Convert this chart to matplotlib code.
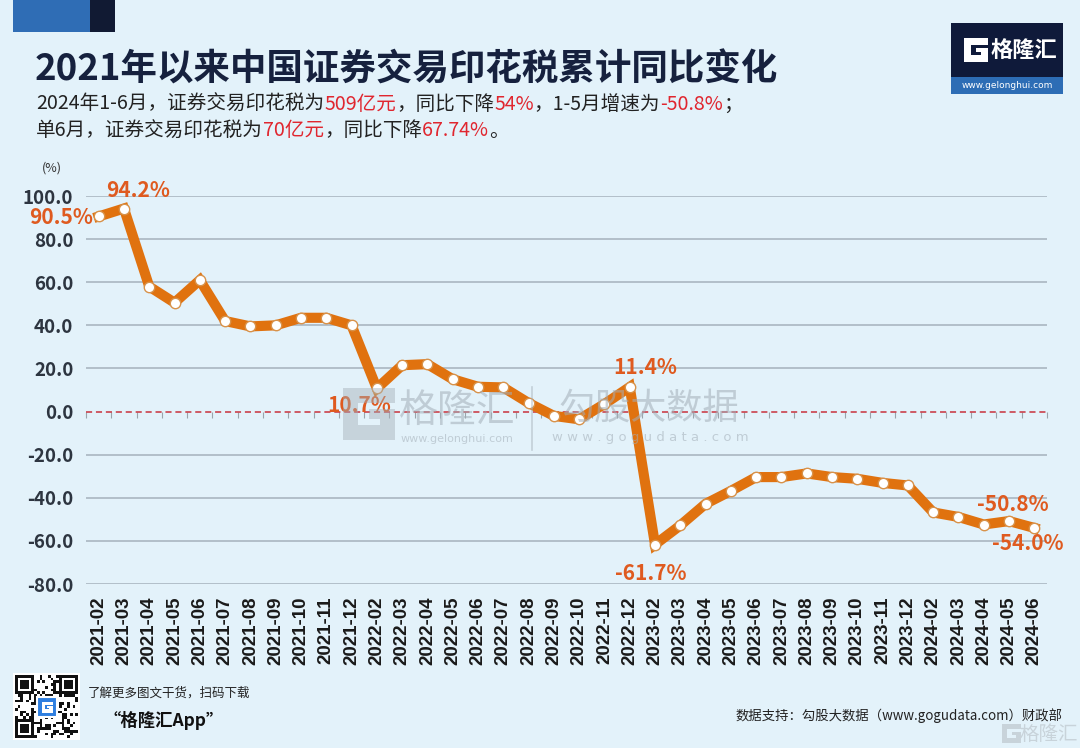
import matplotlib
matplotlib.use("Agg")
import matplotlib.pyplot as plt
from matplotlib.patches import Rectangle, Polygon
import numpy as np

# ---------------- data ----------------
months = ["2021-02", "2021-03", "2021-04", "2021-05", "2021-06", "2021-07", "2021-08",
          "2021-09", "2021-10", "2021-11", "2021-12",
          "2022-02", "2022-03", "2022-04", "2022-05", "2022-06", "2022-07", "2022-08",
          "2022-09", "2022-10", "2022-11", "2022-12",
          "2023-02", "2023-03", "2023-04", "2023-05", "2023-06", "2023-07", "2023-08",
          "2023-09", "2023-10", "2023-11", "2023-12",
          "2024-02", "2024-03", "2024-04", "2024-05", "2024-06"]
yoy = [90.5, 94.2, 58.0, 50.5, 61.0, 42.0, 39.5, 40.0, 43.5, 43.5, 40.0,
       10.7, 21.5, 22.0, 15.0, 11.5, 11.2, 4.0, -2.0, -3.6, 3.5, 11.4,
       -61.7, -52.8, -42.8, -36.8, -30.4, -30.4, -28.7, -30.4, -31.2, -33.1, -34.3,
       -46.8, -48.9, -52.4, -50.8, -54.0]
labelled = ["2021-02", "2021-03", "2022-02", "2022-12", "2023-02", "2024-05", "2024-06"]
yticks = [100, 80, 60, 40, 20, 0, -20, -40, -60, -80]

title = "2021年以来中国证券交易印花税累计同比变化"
sub1 = [("2024年1-6月，证券交易印花税为", 0), ("509亿元", 1), ("，同比下降", 0), ("54%", 1),
        ("，1-5月增速为", 0), ("-50.8%", 1), ("；", 0)]
sub2 = [("单6月，证券交易印花税为", 0), ("70亿元", 1), ("，同比下降", 0), ("67.74%", 1), ("。", 0)]
source = "数据支持：勾股大数据（www.gogudata.com）财政部"

# ---------------- style ----------------
W, H = 1080, 748
BG = "#e3f2fa"
ORANGE = "#e0720f"
LABEL = "#df5a1f"
GRID = "#aebbc5"
ZERO = "#c8323c"
NAVY = "#16213e"
DARK = "#222222"
RED = "#e0262f"
CJK = ["Noto Sans CJK SC", "DejaVu Sans"]

# label offsets in points (dx, dy, ha)
offsets = {
    "2021-02": (-4, -1, "right"),
    "2021-03": (10, 13, "center"),
    "2022-02": (-13, -12, "center"),
    "2022-12": (11, 14, "center"),
    "2023-02": (-3, -21, "center"),
    "2024-05": (3, 12, "center"),
    "2024-06": (-5, -11, "center"),
}

fig = plt.figure(figsize=(W / 100, H / 100), dpi=100, facecolor=BG)


def fx(px):
    return px / W


def fy(py):
    return 1 - py / H


# ---------------- axes ----------------
ax = fig.add_axes([fx(86), fy(584), fx(1047 - 86), (584 - 196) / H])
ax.set_facecolor(BG)
x = np.arange(len(months))
ax.set_xlim(-0.5, len(months) - 0.5)
ax.set_ylim(min(yticks), max(yticks))

for v in yticks:
    if v != 0:
        ax.axhline(v, color=GRID, lw=1.3, zorder=1)
ax.axhline(0, color=ZERO, lw=1.1, ls=(0, (4, 2.5)), zorder=2)

ax.plot(x, yoy, color=ORANGE, lw=7.3, solid_joinstyle="miter", zorder=4,
        marker="o", markersize=7.5, markerfacecolor="white", markeredgecolor="#d8924a",
        markeredgewidth=1.0)

for s in ax.spines.values():
    s.set_visible(False)

ax.set_yticks(yticks)
ax.set_yticklabels([f"{v:.1f}" for v in yticks], fontsize=13.5, fontweight="bold",
                   color="#2d3540", family=CJK)
ax.tick_params(axis="y", length=0, pad=9)
ax.set_xticks(x)
ax.set_xticklabels(months, rotation=90, fontsize=13.5, fontweight="bold",
                   color="#1a1a1a", family="Liberation Sans")
ax.tick_params(axis="x", length=0, pad=9)

# small tick marks on the zero line, between categories
sec = ax.secondary_xaxis(0, transform=ax.transData)
sec.set_xticks(np.arange(len(months) + 1) - 0.5)
sec.set_xticklabels([])
sec.tick_params(axis="x", length=4, width=0.8, color="#9aa3aa")
sec.spines["bottom"].set_visible(False)

for m in labelled:
    i = months.index(m)
    dx, dy, ha = offsets[m]
    ax.annotate(f"{yoy[i]:.1f}%", (i, yoy[i]), xytext=(dx, dy), textcoords="offset points",
                ha=ha, va="center", fontsize=15, fontweight="bold", color=LABEL,
                family=CJK, zorder=6)

# (%) unit
fig.text(fx(52), fy(168), "(%)", fontsize=9, color="#333333", ha="center", va="center", family=CJK)

# ---------------- header ----------------
fig.patches.append(Rectangle((fx(13), fy(32)), fx(77), 32 / H, transform=fig.transFigure,
                             facecolor="#2f6db5", edgecolor="none"))
fig.patches.append(Rectangle((fx(90), fy(32)), fx(25), 32 / H, transform=fig.transFigure,
                             facecolor="#111a33", edgecolor="none"))

fig.text(fx(35), fy(70), title, fontsize=26.3, fontweight="bold", color=NAVY,
         ha="left", va="center", family=CJK)

renderer = fig.canvas.get_renderer()


def rich(x_px, y_px, parts, size):
    xx = fx(x_px)
    for txt, hi in parts:
        t = fig.text(xx, fy(y_px), txt, fontsize=size, color=RED if hi else DARK,
                     ha="left", va="center", family=CJK)
        xx += t.get_window_extent(renderer=renderer).width / W


rich(36, 104, sub1, 14.1)
rich(36, 131, sub2, 14.1)


# G logo shape
def draw_g(x0, y0, size, color, alpha=1.0, z=3):
    pts = [(0, 0), (1, 0), (1, 0.6), (0.5, 0.6), (0.5, 0.4), (0.72, 0.4), (0.72, 0.28),
           (0.28, 0.28), (0.28, 0.72), (1, 0.72), (1, 1), (0, 1)]
    poly = [(fx(x0 + px * size), fy(y0 + size - py * size)) for px, py in pts]
    fig.patches.append(Polygon(poly, closed=True, transform=fig.transFigure,
                               facecolor=color, edgecolor="none", alpha=alpha, zorder=z))


# logo top right
fig.patches.append(Rectangle((fx(951), fy(94)), fx(112), 71 / H, transform=fig.transFigure,
                             facecolor="#0f1a3a", edgecolor="none"))
fig.patches.append(Rectangle((fx(951), fy(94)), fx(112), 17 / H, transform=fig.transFigure,
                             facecolor="#2d6db5", edgecolor="none"))
draw_g(964, 38, 24, "white", z=5)
fig.text(fx(1024), fy(50), "格隆汇", fontsize=16, fontweight="bold", color="white",
         ha="center", va="center", family=CJK, zorder=6)
fig.text(fx(1007), fy(85.5), "www.gelonghui.com", fontsize=6.5, color="white",
         ha="center", va="center", family="DejaVu Sans", zorder=6)

# ---------------- watermark ----------------
WM = "#a3aeb7"
draw_g(343, 388, 52, WM, alpha=0.45, z=0.5)
fig.text(fx(457), fy(411), "格隆汇", fontsize=28, color=WM, alpha=0.55,
         ha="center", va="center", family=CJK, zorder=0.5)
fig.text(fx(457), fy(439), "www.gelonghui.com", fontsize=8, color=WM, alpha=0.55,
         ha="center", va="center", family="DejaVu Sans", zorder=0.5)
fig.lines.append(plt.Line2D([fx(532), fx(532)], [fy(387), fy(450)], transform=fig.transFigure,
                            color=WM, alpha=0.5, lw=1.2, zorder=0.5))
fig.text(fx(649), fy(409), "勾股大数据", fontsize=26, color=WM, alpha=0.55,
         ha="center", va="center", family=CJK, zorder=0.5)
fig.text(fx(650), fy(438), "w w w . g o g u d a t a . c o m", fontsize=9.5, color=WM, alpha=0.55,
         ha="center", va="center", family="DejaVu Sans", zorder=0.5)

# ---------------- footer ----------------
# QR-like badge
qx, qy, qs = 13, 673, 67
fig.patches.append(Rectangle((fx(qx), fy(qy + qs)), fx(qs), qs / H, transform=fig.transFigure,
                             facecolor="white", edgecolor="none"))
n = 23
cell = (qs - 4) / n
for i in range(n):
    for j in range(n):
        finder = None
        for (ci, cj) in [(0, 0), (0, n - 7), (n - 7, 0)]:
            if ci <= i < ci + 7 and cj <= j < cj + 7:
                di, dj = i - ci, j - cj
                finder = (di in (0, 6) or dj in (0, 6)) or (2 <= di <= 4 and 2 <= dj <= 4)
        if finder is None:
            on = ((i * 7 + j * 13) ^ (i * j)) % 3 == 0
        else:
            on = finder
        if on:
            fig.patches.append(Rectangle((fx(qx + 2 + j * cell), fy(qy + 2 + (i + 1) * cell)),
                                         fx(cell), cell / H, transform=fig.transFigure,
                                         facecolor="#111111", edgecolor="none"))
fig.patches.append(Rectangle((fx(qx + 24), fy(qy + 44)), fx(20), 20 / H, transform=fig.transFigure,
                             facecolor="#2f7fe0", edgecolor="white", lw=1.5, zorder=4))
draw_g(qx + 28.5, qy + 28.5, 11, "white", z=5)

fig.text(fx(88), fy(693), "了解更多图文干货，扫码下载", fontsize=9, style="italic", color="#222222",
         ha="left", va="center", family=CJK)
fig.text(fx(103), fy(720), "“格隆汇App”", fontsize=12.5, style="italic", fontweight="bold",
         color="#111111", ha="left", va="center", family=CJK)
fig.text(fx(1063), fy(716), source, fontsize=9.6, color="#222222",
         ha="right", va="center", family=CJK)
draw_g(1002, 724, 19, "#c8d3da", z=3)
fig.text(fx(1049), fy(734), "格隆汇", fontsize=14, color="#c8d3da",
         ha="center", va="center", family=CJK)

fig.savefig("out.png", dpi=100, facecolor=BG)
